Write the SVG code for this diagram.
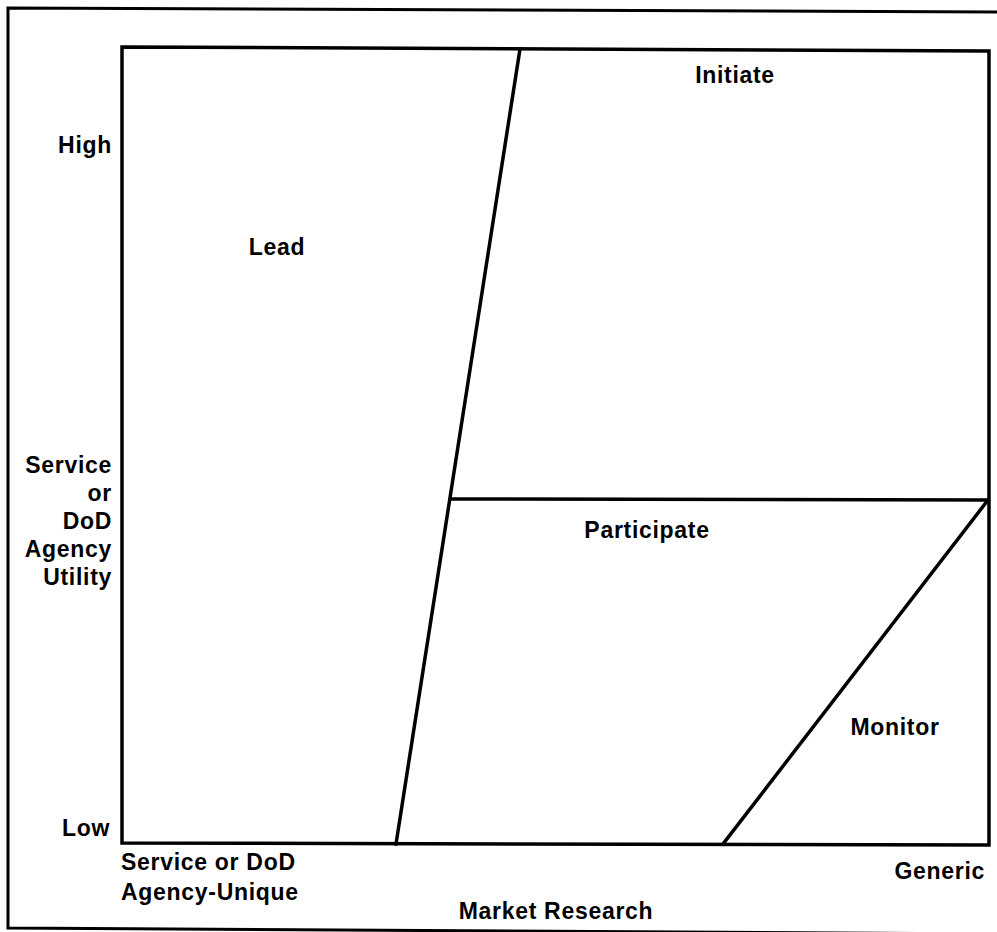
<svg xmlns="http://www.w3.org/2000/svg" width="997" height="932" viewBox="0 0 997 932">
<style>
  .ln { fill: none; stroke: #000; stroke-width: 3.5; stroke-linecap: square; stroke-linejoin: miter; }
  .fr { fill: none; stroke: #000; stroke-width: 3; }
  text { font-family: "Liberation Sans", Arial, sans-serif; font-weight: bold; font-size: 23px; letter-spacing: 0.7px; fill: #000; }
  .e { text-anchor: end; }
  .m { text-anchor: middle; }
</style>
<rect width="997" height="932" fill="#fff"/>
<g id="frame">
  <path class="fr" d="M 999 12 L 8 8 L 8 928 L 999 934"/>
</g>
<g id="chart-box">
  <path class="ln" d="M 122 47 L 989 51 L 989 845 L 122 843 Z"/>
</g>
<g id="connectors">
  <line class="ln" x1="520" y1="49" x2="396" y2="844"/>
  <line class="ln" x1="452" y1="499" x2="988" y2="500"/>
  <line class="ln" x1="988" y1="500" x2="723" y2="844"/>
</g>
<g id="y-axis">
  <text class="e" x="112" y="153">High</text>
  <text class="e" x="112" y="473">Service</text>
  <text class="e" x="112" y="501">or</text>
  <text class="e" x="112" y="529">DoD</text>
  <text class="e" x="112" y="557">Agency</text>
  <text class="e" x="112" y="585">Utility</text>
  <text class="e" x="110" y="836">Low</text>
</g>
<g id="x-axis">
  <text x="121" y="870">Service or DoD</text>
  <text x="121" y="900">Agency-Unique</text>
  <text class="e" x="985" y="879">Generic</text>
  <text class="m" x="556" y="919">Market Research</text>
</g>
<g id="lead"><text class="m" x="277" y="255">Lead</text></g>
<g id="initiate"><text class="m" x="735" y="83">Initiate</text></g>
<g id="participate"><text class="m" x="647" y="538">Participate</text></g>
<g id="monitor"><text class="m" x="895" y="735">Monitor</text></g>
</svg>
